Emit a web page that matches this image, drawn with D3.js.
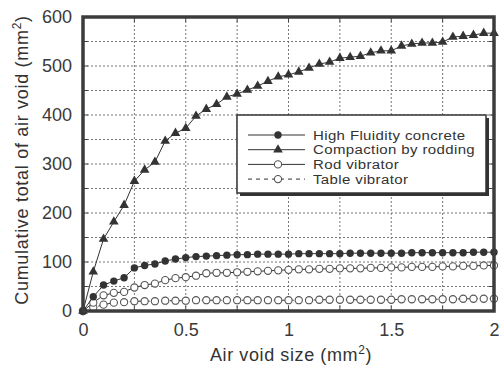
<!DOCTYPE html>
<html>
<head>
<meta charset="utf-8">
<script src="https://cdn.jsdelivr.net/npm/d3@7"></script>
<style>
  body { margin: 0; background: #fff; }
  svg { display: block; font-family: "Liberation Sans", Arial, sans-serif; }
  .tick text { fill: #3a3a3a; }
</style>
</head>
<body>
<div id="chart"></div>
<script>
// canvas size and plot margins
var svgWidth = 501;
var svgHeight = 365;
var margin = { top: 17, right: 7, bottom: 54, left: 83 };
var width = svgWidth - margin.left - margin.right;
var height = svgHeight - margin.top - margin.bottom;

// Data
var airVoidSize = [0, 0.05, 0.1, 0.15, 0.2, 0.25, 0.3, 0.35, 0.4, 0.45, 0.5, 0.55, 0.6, 0.65, 0.7, 0.75, 0.8, 0.85, 0.9, 0.95,
    1, 1.05, 1.1, 1.15, 1.2, 1.25, 1.3, 1.35, 1.4, 1.45, 1.5, 1.55, 1.6, 1.65, 1.7, 1.75, 1.8, 1.85, 1.9, 1.95, 2];
var highFluidity = [0, 29, 53, 61, 68, 88, 93, 96, 102, 106, 109, 111, 112, 113, 114, 115, 115, 116, 116, 116,
    116, 117, 117, 117, 117, 117, 118, 118, 118, 118, 118, 118, 119, 119, 119, 119, 119, 119, 120, 120, 120];
var rodding = [0, 80, 147, 182, 216, 265, 288, 304, 347, 363, 373, 398, 412, 422, 437, 443, 451, 459, 469, 478,
    482, 488, 496, 504, 508, 516, 518, 520, 527, 531, 531, 541, 545, 547, 547, 549, 559, 561, 563, 567, 567];
var rodVibrator = [0, 17, 32, 37, 39, 48, 53, 56, 63, 67, 69, 72, 77, 78, 78, 79, 80, 81, 82, 83,
    84, 85, 85, 86, 86, 87, 87, 87, 88, 88, 89, 89, 90, 90, 90, 91, 91, 92, 92, 93, 93];
var tableVibrator = [0, 7, 13, 17, 18, 20, 20, 20, 21, 21, 21, 22, 22, 22, 22, 22, 22, 22, 22, 22,
    22, 22, 22, 23, 23, 23, 23, 23, 23, 23, 23, 24, 24, 24, 24, 24, 24, 25, 25, 25, 25];

var seriesNames = ["High Fluidity concrete", "Compaction by rodding", "Rod vibrator", "Table vibrator"];
var xTicks = [0, 0.5, 1, 1.5, 2];
var yTicks = [0, 100, 200, 300, 400, 500, 600];
var xGrid = [0.25, 0.5, 0.75, 1, 1.25, 1.5, 1.75];
var yGrid = [50, 100, 150, 200, 250, 300, 350, 400, 450, 500, 550];

var series = [
    { name: seriesNames[0], values: highFluidity, marker: "dot", dash: null },
    { name: seriesNames[1], values: rodding, marker: "triangle", dash: null },
    { name: seriesNames[2], values: rodVibrator, marker: "open", dash: null },
    { name: seriesNames[3], values: tableVibrator, marker: "open", dash: "4,4" }
];

var ink = "#333";

var svg = d3.select("#chart").append("svg").attr("width", svgWidth).attr("height", svgHeight);
var chartGroup = svg.append("g").attr("transform", `translate(${margin.left}, ${margin.top})`);

// Scales
var x = d3.scaleLinear().domain([0, 2]).range([0, width]);
var y = d3.scaleLinear().domain([0, 600]).range([height, 0]);

// dotted grid
chartGroup.append("g").selectAll("line").data(xGrid).enter().append("line")
    .attr("x1", d => x(d)).attr("x2", d => x(d)).attr("y1", 0).attr("y2", height)
    .attr("stroke", "#777").attr("stroke-width", 1).attr("stroke-dasharray", "2,2");
chartGroup.append("g").selectAll("line").data(yGrid).enter().append("line")
    .attr("y1", d => y(d)).attr("y2", d => y(d)).attr("x1", 0).attr("x2", width)
    .attr("stroke", "#777").attr("stroke-width", 1).attr("stroke-dasharray", "2,2");

// Axes with labels
var xAxis = chartGroup.append("g").attr("transform", `translate(0, ${height})`)
    .call(d3.axisBottom(x).tickValues(xTicks).tickSize(0).tickPadding(12).tickFormat(d3.format("")));
xAxis.select(".domain").remove();
xAxis.selectAll("text").style("font-size", "18px");

var yAxis = chartGroup.append("g")
    .call(d3.axisLeft(y).tickValues(yTicks).tickSize(0).tickPadding(11));
yAxis.select(".domain").remove();
yAxis.selectAll("text").style("font-size", "18px");

// small inward ticks on the frame
var innerTicks = chartGroup.append("g").attr("stroke", "#444").attr("stroke-width", 1);
xGrid.forEach(function (d) {
    innerTicks.append("line").attr("x1", x(d)).attr("x2", x(d)).attr("y1", height).attr("y2", height - 5);
    innerTicks.append("line").attr("x1", x(d)).attr("x2", x(d)).attr("y1", 0).attr("y2", 5);
});
yGrid.forEach(function (d) {
    innerTicks.append("line").attr("y1", y(d)).attr("y2", y(d)).attr("x1", 0).attr("x2", 5);
    innerTicks.append("line").attr("y1", y(d)).attr("y2", y(d)).attr("x1", width).attr("x2", width - 5);
});

// lines and markers
var line = d3.line().x((d, i) => x(airVoidSize[i])).y(d => y(d));
var triangle = d3.symbol().type(d3.symbolTriangle).size(40);

function drawMarker(g, kind, px, py) {
    if (kind === "dot") {
        g.append("circle").attr("cx", px).attr("cy", py).attr("r", 3.7).attr("fill", ink);
    } else if (kind === "triangle") {
        g.append("path").attr("d", triangle()).attr("transform", `translate(${px}, ${py})`).attr("fill", ink);
    } else {
        g.append("circle").attr("cx", px).attr("cy", py).attr("r", 3.6)
            .attr("fill", "#fff").attr("stroke", "#555").attr("stroke-width", 1.1);
    }
}

series.slice().reverse().forEach(function (s) {
    var g = chartGroup.append("g");
    g.append("path").datum(s.values).attr("d", line)
        .attr("fill", "none").attr("stroke", ink).attr("stroke-width", 1)
        .attr("stroke-dasharray", s.dash);
    s.values.forEach(function (v, i) { drawMarker(g, s.marker, x(airVoidSize[i]), y(v)); });
});

// frame
chartGroup.append("rect").attr("x", 0).attr("y", 0).attr("width", width).attr("height", height)
    .attr("fill", "none").attr("stroke", "#3c3c3c").attr("stroke-width", 3.5);

// legend with drop shadow
var legend = svg.append("g").attr("transform", "translate(237, 115)");
legend.append("rect").attr("x", 3).attr("y", 3).attr("width", 249).attr("height", 78).attr("fill", "#333");
legend.append("rect").attr("x", 0).attr("y", 0).attr("width", 249).attr("height", 78)
    .attr("fill", "#fff").attr("stroke", "#333").attr("stroke-width", 1.5);

series.forEach(function (s, i) {
    var ly = 20 + i * 14.7;
    var row = legend.append("g");
    row.append("line").attr("x1", 11).attr("x2", 68).attr("y1", ly).attr("y2", ly)
        .attr("stroke", ink).attr("stroke-width", 1).attr("stroke-dasharray", s.dash);
    drawMarker(row, s.marker, 41, ly);
    // the scan's lettering is wide, so stretch it sideways
    row.append("text").attr("transform", `translate(76, ${ly + 4.5}) scale(1.25, 1)`)
        .style("font-size", "12px").style("letter-spacing", "0.3px").attr("fill", "#333").text(s.name);
});

// axis titles
var xTitle = svg.append("text").attr("x", 291).attr("y", 361).attr("text-anchor", "middle")
    .style("font-size", "18px").style("letter-spacing", "0.6px").attr("fill", "#333");
xTitle.append("tspan").text("Air void size  (mm");
xTitle.append("tspan").attr("dy", -7).style("font-size", "12px").text("2");
xTitle.append("tspan").attr("dy", 7).text(")");

var yTitle = svg.append("text").attr("transform", "translate(28, 160) rotate(-90)").attr("text-anchor", "middle")
    .style("font-size", "18px").style("letter-spacing", "0.7px").attr("fill", "#333");
yTitle.append("tspan").text("Cumulative total of air void  (mm");
yTitle.append("tspan").attr("dy", -7).style("font-size", "12px").text("2");
yTitle.append("tspan").attr("dy", 7).text(")");
</script>
</body>
</html>
